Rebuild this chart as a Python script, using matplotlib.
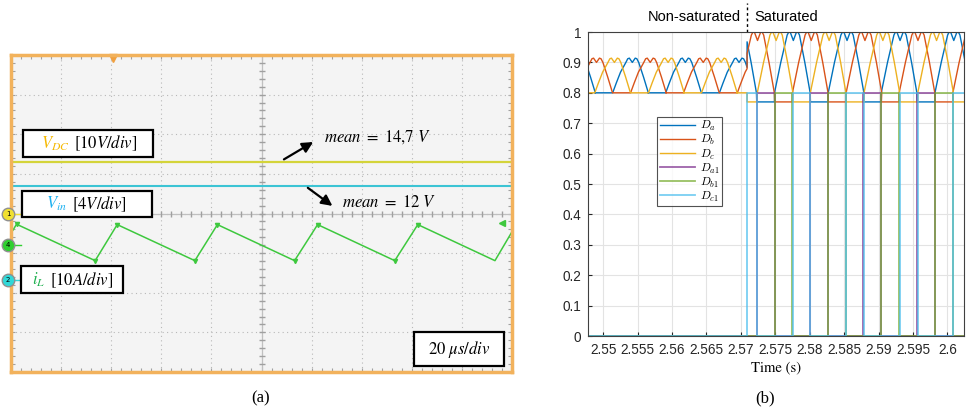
import numpy as np
import matplotlib
matplotlib.use("Agg")
import matplotlib.pyplot as plt
from matplotlib.patches import Rectangle, FancyArrowPatch
from matplotlib.font_manager import FontProperties

# ---------------- (a) oscilloscope capture, values in screen divisions
vdc_level = 1.31
vin_level = 0.70
il_x = [0.04, 0.11, 1.68, 2.12, 3.67, 4.12, 5.66, 6.12, 7.66, 8.12, 9.66, 10.0]
il_y = [-0.42, -0.27, -1.19, -0.28, -1.19, -0.28, -1.19, -0.28, -1.19, -0.28, -1.19, -0.46]

# ---------------- (b) duty cycles
P = 0.00776          # period of the duty cycle pattern (s)
t_sat = 2.5709       # start of the saturated region

# start of the clamped interval of each cycle, non-saturated / saturated
da_ns = [2.5411, 2.5488, 2.5565, 2.5643, 2.5720]
db_ns = [2.5436, 2.5514, 2.5591, 2.5669]
dc_ns = [2.5462, 2.5540, 2.5617, 2.5694]
da_s = [2.5645, 2.5723, 2.5801, 2.5878, 2.5956]
db_s = [2.5671, 2.5749, 2.5827, 2.5904, 2.5982]
dc_s = [2.5698, 2.5775, 2.5853, 2.5931, 2.6008]

# one cycle (fraction of period, duty)
ns_frac = [0, 0.333, 0.40, 0.48, 0.58, 0.615, 0.645, 0.70, 0.755, 0.785, 0.82, 0.91, 1.0]
ns_val = [0.8, 0.8, 0.832, 0.868, 0.900, 0.912, 0.914, 0.900, 0.914, 0.912, 0.900, 0.852, 0.8]
s_frac = [0, 0.333, 0.333, 0.45, 0.57, 0.60, 0.63, 0.685, 0.74, 0.77, 0.80, 0.90, 1.0]
s_val = [0.77, 0.77, 0.8, 0.9, 0.99, 1.0, 0.998, 0.972, 0.998, 1.0, 0.99, 0.9, 0.8]
gate_high = 0.8

names = ["$D_a$", "$D_b$", "$D_c$", "$D_{a1}$", "$D_{b1}$", "$D_{c1}$"]
colors = ["#0072BD", "#D95319", "#EDB120", "#7E2F8E", "#77AC30", "#4DBEEE"]

xlo, xhi = 2.5478, 2.6024


def build(starts, frac, val):
    t = np.concatenate([s + P * np.array(frac) for s in starts])
    v = np.tile(val, len(starts))
    return t, v


def duty(ns_starts, s_starts):
    t1, v1 = build(ns_starts, ns_frac, ns_val)
    t2, v2 = build(s_starts, s_frac, s_val)
    m1 = t1 < t_sat
    m2 = t2 > t_sat
    t = np.concatenate([[xlo], t1[m1], [t_sat, t_sat], t2[m2]])
    v = np.concatenate([[np.interp(xlo, t1, v1)], v1[m1],
                        [np.interp(t_sat, t1, v1), np.interp(t_sat, t2, v2)], v2[m2]])
    return t, v


def gate(s_starts):
    t, v = [xlo], [0]
    for s in s_starts:
        a, b = max(s, t_sat), s + P / 3
        if b <= t_sat:
            continue
        t += [a, a, b, b]
        v += [0, gate_high, gate_high, 0]
    t.append(xhi + 0.01)
    v.append(0)
    return t, v


fig = plt.figure(figsize=(9.66, 4.12), dpi=100)

# =============== panel (a)
ax = fig.add_axes([11 / 966, 1 - 372 / 412, 501 / 966, 317 / 412])
ax.set_facecolor("#f4f4f4")
ax.set_xlim(0, 10)
ax.set_ylim(-4, 4)
for x in range(1, 10):
    ax.axvline(x, color="#b8b8b8", lw=0.8, ls=(0, (1, 3)))
for y in range(-3, 4):
    ax.axhline(y, color="#b8b8b8", lw=0.8, ls=(0, (1, 3)))
ax.axvline(5, color="#c0c0c0", lw=0.9)
ax.axhline(0, color="#c0c0c0", lw=0.9)
mt = np.arange(0, 10.01, 0.2)
ax.plot(mt, np.zeros_like(mt), ls="none", marker="|", ms=4, color="#a0a0a0")
mty = np.arange(-4, 4.01, 0.2)
ax.plot(np.full_like(mty, 5), mty, ls="none", marker="_", ms=4, color="#a0a0a0")
ax.set_xticks(np.arange(0, 10.01, 0.2))
ax.set_yticks(np.arange(-4, 4.01, 0.2))
ax.tick_params(direction="in", length=3, color="#a0a0a0", labelbottom=False, labelleft=False,
               top=True, right=True)
for sp in ax.spines.values():
    sp.set_color("#f2b25c")
    sp.set_linewidth(2.5)

ax.plot([0, 10], [vdc_level, vdc_level], color="#d4d43a", lw=1.6)
ax.plot([0, 10], [vin_level, vin_level], color="#3cc4d4", lw=1.5)
ax.plot(il_x, il_y, color="#3ec83e", lw=1.1)
ax.plot(il_x[1::2][:-1], il_y[1::2][:-1], ls="none", marker="v", ms=3, color="#3ec83e")
ax.plot(il_x[2::2][:-1], il_y[2::2][:-1], ls="none", marker="v", ms=3, color="#3ec83e")
ax.plot([9.8], [il_y[-1] + 0.22], ls="none", marker="<", ms=4, color="#3ec83e")

# channel markers
for yv, col, lab in [(0, "#f0e030", "1"), (-0.80, "#30d030", "4"), (-1.68, "#30d8d8", "2")]:
    ax.plot([-0.06], [yv], marker="o", ms=9, color=col, mec="#909090", clip_on=False, zorder=5)
    ax.text(-0.06, yv, lab, fontsize=5, ha="center", va="center", clip_on=False, zorder=6)
    ax.plot([0.05, 0.2], [yv, yv], color=col, lw=1, clip_on=False)
ax.plot([2.04], [3.92], marker="v", ms=6, color="#f0a040", clip_on=False)

sfont = dict(math_fontfamily="stix", fontsize=12)
boxes = [(0.24, 1.43, 2.60, 0.68), (0.22, -0.09, 2.60, 0.66), (0.20, -2.01, 2.04, 0.68),
         (8.04, -3.85, 1.80, 0.85)]
for bx, by, bw, bh in boxes:
    ax.add_patch(Rectangle((bx, by), bw, bh, facecolor="white", edgecolor="black", lw=1.6, zorder=4))
ax.text(0.60, 1.76, r"$V_{DC}$", color="#f5b800", va="center", zorder=5, **sfont)
ax.text(1.26, 1.76, r"$[10V/div]$", color="black", va="center", zorder=5, **sfont)
ax.text(0.70, 0.24, r"$V_{in}$", color="#1ab0f0", va="center", zorder=5, **sfont)
ax.text(1.22, 0.24, r"$[4V/div]$", color="black", va="center", zorder=5, **sfont)
ax.text(0.42, -1.68, r"$i_L$", color="#20b050", va="center", zorder=5, **sfont)
ax.text(0.78, -1.68, r"$[10A/div]$", color="black", va="center", zorder=5, **sfont)
ax.text(8.94, -3.42, r"$20\ \mu s/div$", color="black", va="center", ha="center", zorder=5, **sfont)

ax.add_patch(FancyArrowPatch((5.40, 1.33), (6.08, 1.84), arrowstyle="-|>", mutation_scale=16,
                             color="black", lw=1.6, zorder=5))
ax.add_patch(FancyArrowPatch((5.88, 0.69), (6.46, 0.15), arrowstyle="-|>", mutation_scale=16,
                             color="black", lw=1.6, zorder=5))
ax.text(6.24, 1.93, r"$mean\ =\ 14{,}7\ V$", va="center", **sfont)
ax.text(6.60, 0.29, r"$mean\ =\ 12\ V$", va="center", **sfont)

fig.text(261 / 966, 1 - 398 / 412, "(a)", ha="center", va="center", family="Liberation Serif", fontsize=12)
fig.text(765 / 966, 1 - 398 / 412, "(b)", ha="center", va="center", family="Liberation Serif", fontsize=12)

# =============== panel (b)
bx = fig.add_axes([588 / 966, 1 - 336 / 412, 376 / 966, 304 / 412])
series = [duty(da_ns, da_s), duty(db_ns, db_s), duty(dc_ns, dc_s),
          gate(da_s), gate(db_s), gate(dc_s)]
for i, (t, v) in enumerate(series):
    bx.plot(t, v, color=colors[i], lw=1.0 if i < 3 else 1.3, alpha=1 if i < 3 else 0.75,
            label=names[i])
bx.set_xlim(xlo, xhi)
bx.set_ylim(0, 1)
xt = np.arange(2.55, 2.6001, 0.005)
bx.set_xticks(xt)
bx.set_xticklabels(["%g" % round(x, 3) for x in xt])
bx.set_yticks(np.arange(0, 1.01, 0.1))
bx.set_yticklabels(["%g" % round(y, 1) for y in np.arange(0, 1.01, 0.1)])
bx.grid(True, color="#e3e3e3", lw=0.8)
bx.set_axisbelow(True)
bx.tick_params(direction="in", length=3, labelsize=9.8, colors="#262626", pad=5)
for lab in bx.get_xticklabels() + bx.get_yticklabels():
    lab.set_family("Liberation Sans")
for sp in bx.spines.values():
    sp.set_color("#404040")
    sp.set_linewidth(0.8)
bx.set_xlabel("Time (s)", family="STIXGeneral", fontsize=10.5, labelpad=3)
leg = bx.legend(loc="upper left", bbox_to_anchor=(0.184, 0.72),
                prop=FontProperties(size=8.5, math_fontfamily="cm"), frameon=True, fancybox=False,
                edgecolor="#262626", handlelength=3.0, borderpad=0.2, labelspacing=0.0,
                handletextpad=0.4, borderaxespad=0)
leg.get_frame().set_linewidth(0.8)
bx.plot([t_sat, t_sat], [1.0, 1.095], color="black", lw=1, ls=(0, (2, 2)),
        transform=bx.get_xaxis_transform(), clip_on=False)
bx.text(t_sat - 0.0009, 1.05, "Non-saturated", ha="right", va="center", fontsize=10.5,
        family="Liberation Sans", transform=bx.get_xaxis_transform())
bx.text(t_sat + 0.0011, 1.05, "Saturated", ha="left", va="center", fontsize=10.5,
        family="Liberation Sans", transform=bx.get_xaxis_transform())

fig.savefig("out.png", dpi=100)
